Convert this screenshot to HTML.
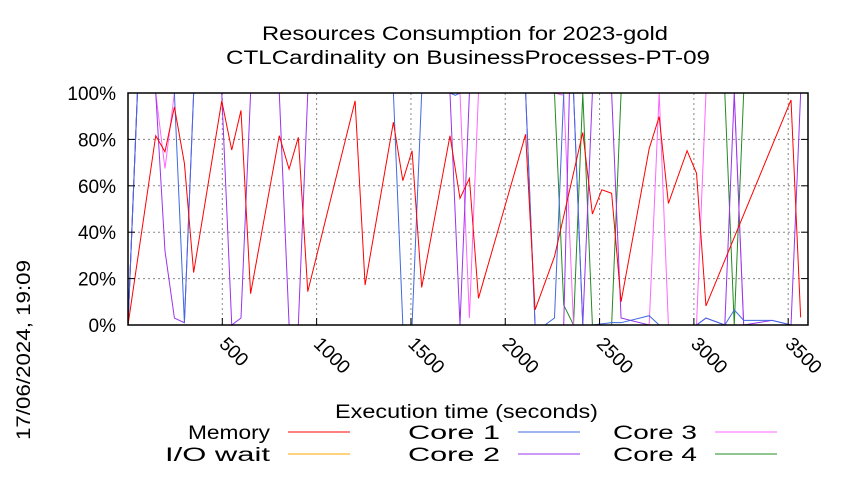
<!DOCTYPE html>
<html><head><meta charset="utf-8"><style>
body{margin:0;background:#fff;width:850px;height:475px;overflow:hidden}
text{font-family:"Liberation Sans",sans-serif;fill:#000}
</style></head><body>
<svg id="chart" width="850" height="475" xmlns="http://www.w3.org/2000/svg">
<text x="262" y="40" font-size="19" textLength="406" lengthAdjust="spacingAndGlyphs">Resources Consumption for 2023-gold</text>
<text x="226" y="64" font-size="19" textLength="484" lengthAdjust="spacingAndGlyphs">CTLCardinality on BusinessProcesses-PT-09</text>
<text x="335" y="418" font-size="19" textLength="263" lengthAdjust="spacingAndGlyphs">Execution time (seconds)</text>
<text transform="translate(30,440) rotate(-90)" font-size="19" textLength="180" lengthAdjust="spacingAndGlyphs">17/06/2024, 19:09</text>
<g id="grid"></g><g id="series"></g><g id="axes"></g><g id="legend"></g>
</svg>
<script>
const xTicks=[500,1000,1500,2000,2500,3000,3500];
const yTicks=[0,20,40,60,80,100];
const memT=[0,147,196,246,299,348,497,550,599,650,802,854,903,953,1204,1257,1407,1457,1506,1557,1707,1760,1810,1858,2108,2158,2261,2411,2462,2512,2564,2614,2763,2816,2865,2964,3014,3064,3515,3566];
const memV=[0,81.6,74.7,94,69.7,22.6,96.6,75.4,92.5,13.5,81.6,67.2,80.9,14.4,96.6,17.2,87.4,62.2,75.1,16.2,81.6,54.6,63.2,11.5,82.2,6.5,29.5,83,47.8,58.3,56.8,10,76,89.8,52.4,75.1,65.4,8.2,97,3.3];
const c1T=[0,50,246,299,348,1407,1457,1506,1557,1707,1735,1760,2108,2158,2210,2261,2310,2362,2411,2462,2564,2614,2763,2816,3014,3064,3164,3214,3264,3415,3515,3566];
const c1V=[0,100,100,1,100,100,0,0,100,100,99,100,100,0,0,3,100,100,0,0,1,1,4,0,0,3,0,6.5,2,2,0,0];
const c2T=[0,50,147,196,246,299,348,497,550,599,650,802,854,903,953,1707,1760,1810,2108,2158,2310,2340,2362,2411,2462,2564,2614,2763,3014,3064,3164,3214,3264,3415,3515,3566];
const c2V=[0,100,100,32,3,1,100,100,0,3,100,100,0,0,100,100,0,100,100,0,0,100,100,0,100,100,3,0,0,3,0,100,0,2,0,100];
const c3T=[0,50,147,196,246,1707,1760,1810,1858,2261,2310,2362,2411,2763,2816,2865,3014,3064,3164,3214,3264,3415,3566];
const c3V=[0,100,100,67.5,100,100,100,3,100,100,99,0,0,0,100,0,0,100,100,100,0,0,0];
const c4T=[0,50,2261,2310,2362,2411,2462,2564,2614,3164,3214,3264,3566];
const c4V=[0,100,100,8.6,0,100,0,0,100,100,0,100,100];
const ioT=[0,3566];
const ioV=[0,0];
const L=128,R=808,T=93,B=325,XMIN=0,XMAX=3605;
const X=v=>L+(v-XMIN)/(XMAX-XMIN)*(R-L);
const Y=v=>B-v/100*(B-T);
const NS="http://www.w3.org/2000/svg";
function mk(tag,parent,attrs){const e=document.createElementNS(NS,tag);for(const k in attrs)e.setAttribute(k,attrs[k]);parent.appendChild(e);return e;}
const grid=document.getElementById('grid'),axes=document.getElementById('axes'),ser=document.getElementById('series'),leg=document.getElementById('legend');
yTicks.forEach(v=>{
  if(v>0&&v<100){const g=mk('line',grid,{x1:L,x2:R,y1:Y(v),y2:Y(v),stroke:'#888','stroke-dasharray':'2,3','stroke-width':1});
  
  }
  const t=mk('text',axes,{x:116,y:Y(v)+7,'font-size':19,'text-anchor':'end'});t.textContent=v+'%';
  
  
  mk('line',axes,{x1:L,x2:L+7,y1:Y(v),y2:Y(v),stroke:'#000'});
  mk('line',axes,{x1:R,x2:R-7,y1:Y(v),y2:Y(v),stroke:'#000'});
});
xTicks.forEach(v=>{
  const g=mk('line',grid,{x1:X(v),x2:X(v),y1:T,y2:B,stroke:'#888','stroke-dasharray':'2,3','stroke-width':1});
  
  
  mk('line',axes,{x1:X(v),x2:X(v),y1:B,y2:B-7,stroke:'#000'});
  const t=mk('text',axes,{transform:`translate(${X(v)-4},${B+20}) rotate(45)`,'font-size':19});t.textContent=v;
  
  
});
const fr=mk('rect',axes,{x:L,y:T,width:R-L,height:B-T,fill:'none',stroke:'#000','stroke-width':1.5});


const S=[
 ['Core 4',c4T,c4V,'#228b22','series-core-4'],
 ['Core 3',c3T,c3V,'#ff66ff','series-core-3'],
 ['Core 2',c2T,c2V,'#9933ee','series-core-2'],
 ['Core 1',c1T,c1V,'#4169e1','series-core-1'],
 ['I/O wait',ioT,ioV,'#ffa500','series-io-wait'],
 ['Memory',memT,memV,'#ff0000','series-memory']];
S.forEach(s=>{
  const p=mk('polyline',ser,{points:s[1].map((t,i)=>X(t)+','+Y(s[2][i])).join(' '),fill:'none',stroke:s[3],'stroke-width':1});
  
  
});
const legItems=[['Memory','#ff0000',270,432,82],['I/O wait','#ffa500',270,454,105],['Core 1','#4169e1',500,432,92],['Core 2','#9933ee',500,454,92],['Core 3','#ff66ff',697,432,84],['Core 4','#228b22',697,454,84]];
legItems.forEach(l=>{
  const t=mk('text',leg,{x:l[2]-l[4],y:l[3]+7,'font-size':19,textLength:l[4],lengthAdjust:'spacingAndGlyphs'});t.textContent=l[0];
  
  
  mk('line',leg,{x1:l[2]+18,x2:l[2]+80,y1:l[3],y2:l[3],stroke:l[1]});
});
</script>
</body></html>
